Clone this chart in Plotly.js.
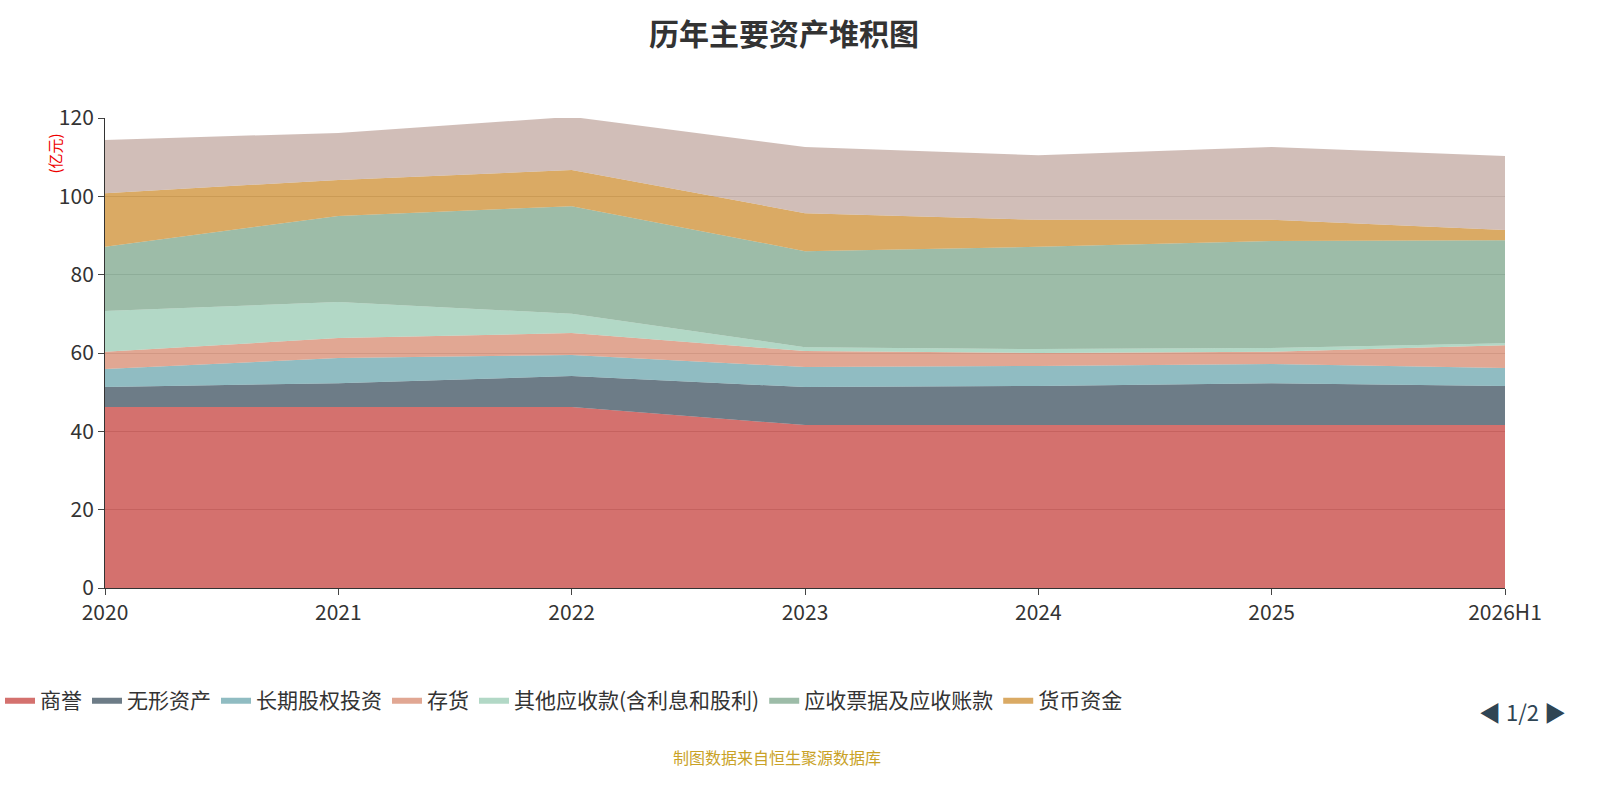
<!DOCTYPE html>
<html><head><meta charset="utf-8">
<script src="https://cdn.plot.ly/plotly-3.0.1.min.js"></script>
<style>body{margin:0}#g{width:1600px;height:800px}</style></head>
<body><div id="g"></div>
<script>
const years = ["2020","2021","2022","2023","2024","2025","2026H1"];
const goodwill   = [46.2,46.2,46.2,41.6,41.6,41.6,41.6];
const intangible = [5.1,6.1,7.9,9.7,10.0,10.7,10.0];
const ltEquity   = [4.6,6.4,5.4,5.1,5.1,4.9,4.6];
const inventory  = [4.4,5.1,5.6,4.1,3.3,3.1,5.8];
const otherRecv  = [10.4,9.2,4.9,1.0,1.0,1.0,0.5];
const recv       = [16.4,22.0,27.5,24.5,26.1,27.3,26.3];
const cash       = [13.7,9.2,9.2,9.7,6.9,5.4,2.6];
const others     = [13.6,12.0,13.6,16.9,16.5,18.6,18.9];

const series = [
  ["商誉", goodwill, "#c23531", true],
  ["无形资产", intangible, "#2f4554", true],
  ["长期股权投资", ltEquity, "#61a0a8", true],
  ["存货", inventory, "#d48265", true],
  ["其他应收款(含利息和股利)", otherRecv, "#91c7ae", true],
  ["应收票据及应收账款", recv, "#749f83", true],
  ["货币资金", cash, "#ca8622", true],
  ["其他资产", others, "#bda29a", false]
];
const xs = years.map((_, i) => i);
function hexA(h, a) {
  const n = parseInt(h.slice(1), 16);
  return `rgba(${n >> 16},${(n >> 8) & 255},${n & 255},${a})`;
}
const data = series.map(([name, y, c, show]) => ({
  x: xs, y: y, name: name, type: "scatter", mode: "lines",
  stackgroup: "a", showlegend: show,
  line: {width: 0, color: c}, fillcolor: hexA(c, 0.7)
}));
Plotly.newPlot("g", data, {
  width: 1600, height: 800,
  margin: {l: 105, r: 95, t: 118, b: 212, autoexpand: false},
  paper_bgcolor: "#fff", plot_bgcolor: "#fff",
  font: {family: "Noto Sans CJK SC, sans-serif", size: 21, color: "#333"},
  title: {text: "<b>历年主要资产堆积图</b>", x: 0.49, y: 0.97, font: {size: 30, color: "#333"}},
  xaxis: {range: [0, 6], tickvals: xs, ticktext: years, showgrid: false,
          showline: true, linecolor: "#333", ticks: "outside", ticklen: 6, zeroline: false},
  yaxis: {range: [0, 120], dtick: 20, gridcolor: "#ccc", showline: true, linecolor: "#333",
          ticks: "outside", ticklen: 6, zeroline: false},
  legend: {orientation: "h", xref: "container", yref: "container", x: 0.0, xanchor: "left",
           y: 0.125, yanchor: "middle", font: {size: 21}, traceorder: "normal"},
  annotations: [
    {text: "(亿元)", xref: "paper", yref: "paper", x: -0.045, y: 0.97, textangle: -90,
     showarrow: false, font: {size: 15, color: "#e00"}},
    {text: "◀ 1/2 ▶", xref: "paper", yref: "paper", x: 1.045, y: -0.3, showarrow: false,
     font: {size: 22, color: "#2f4554"}},
    {text: "制图数据来自恒生聚源数据库", xref: "paper", yref: "paper", x: 0.48, y: -0.39,
     showarrow: false, font: {size: 16, color: "#c9a227"}}
  ]
}, {displayModeBar: false});
</script></body></html>
